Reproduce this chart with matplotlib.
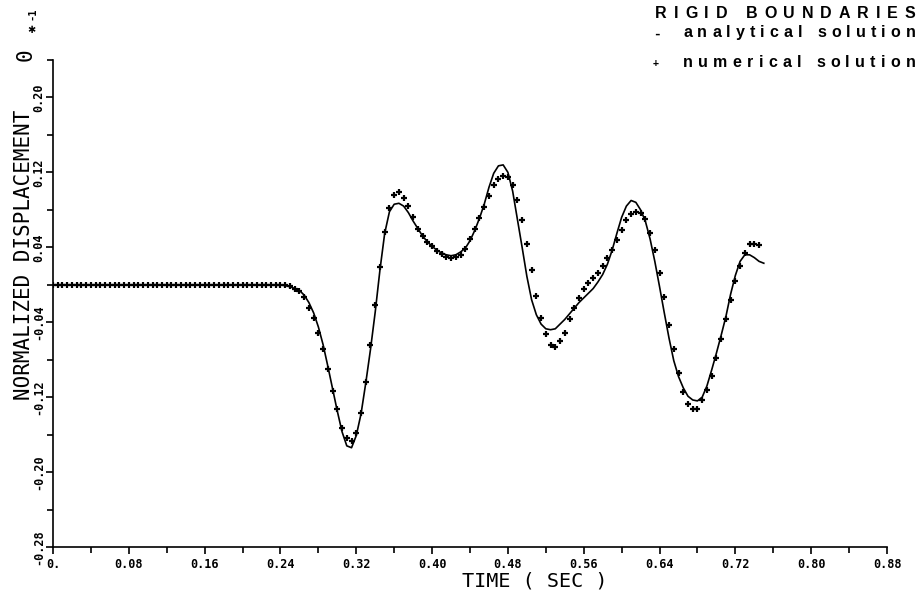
import numpy as np
import matplotlib
matplotlib.use("Agg")
import matplotlib.pyplot as plt
from matplotlib.font_manager import FontProperties

# sampling step of both solutions (s)
dt = 0.005

# analytical solution, t = 0, 0.005, ... 0.750
analytical = [
    0.0, 0.0, 0.0, 0.0, 0.0, 0.0, 0.0, 0.0, 0.0, 0.0,
    0.0, 0.0, 0.0, 0.0, 0.0, 0.0, 0.0, 0.0, 0.0, 0.0,
    0.0, 0.0, 0.0, 0.0, 0.0, 0.0, 0.0, 0.0, 0.0, 0.0,
    0.0, 0.0, 0.0, 0.0, 0.0, 0.0, 0.0, 0.0, 0.0, 0.0,
    0.0, 0.0, 0.0, 0.0, 0.0, 0.0, 0.0, 0.0, 0.0,
    -0.001, -0.002, -0.004, -0.006, -0.011, -0.019, -0.030, -0.045, -0.064, -0.087,
    -0.111, -0.135, -0.157, -0.172, -0.174, -0.161, -0.138, -0.105, -0.069, -0.029,
    0.016, 0.055, 0.078, 0.086, 0.087, 0.084, 0.077, 0.068, 0.060, 0.052,
    0.046, 0.041, 0.037, 0.034, 0.032, 0.031, 0.032, 0.035, 0.039, 0.047,
    0.058, 0.071, 0.086, 0.104, 0.119, 0.127, 0.128, 0.120, 0.100, 0.070,
    0.040, 0.009, -0.016, -0.032, -0.042, -0.047, -0.048, -0.047, -0.042, -0.037,
    -0.031, -0.025, -0.019, -0.014, -0.009, -0.004, 0.003, 0.011, 0.022, 0.037,
    0.055, 0.072, 0.084, 0.090, 0.088, 0.080, 0.068, 0.049, 0.025, -0.002,
    -0.030, -0.057, -0.081, -0.098, -0.110, -0.119, -0.123, -0.124, -0.120, -0.108,
    -0.091, -0.073, -0.054, -0.034, -0.010, 0.010, 0.025, 0.032, 0.032, 0.029,
    0.025, 0.023,
]

# numerical solution, t = 0, 0.005, ... 0.745
numerical = [
    0.0, 0.0, 0.0, 0.0, 0.0, 0.0, 0.0, 0.0, 0.0, 0.0,
    0.0, 0.0, 0.0, 0.0, 0.0, 0.0, 0.0, 0.0, 0.0, 0.0,
    0.0, 0.0, 0.0, 0.0, 0.0, 0.0, 0.0, 0.0, 0.0, 0.0,
    0.0, 0.0, 0.0, 0.0, 0.0, 0.0, 0.0, 0.0, 0.0, 0.0,
    0.0, 0.0, 0.0, 0.0, 0.0, 0.0, 0.0, 0.0, 0.0, 0.0,
    -0.001, -0.004, -0.007, -0.013, -0.025, -0.036, -0.052, -0.069, -0.090, -0.113,
    -0.133, -0.153, -0.164, -0.167, -0.158, -0.137, -0.104, -0.064, -0.022, 0.019,
    0.056, 0.082, 0.096, 0.099, 0.093, 0.084, 0.072, 0.060, 0.052, 0.046,
    0.041, 0.036, 0.033, 0.030, 0.029, 0.030, 0.032, 0.038, 0.049, 0.060,
    0.071, 0.083, 0.095, 0.106, 0.113, 0.116, 0.115, 0.107, 0.091, 0.069,
    0.044, 0.016, -0.012, -0.036, -0.053, -0.064, -0.066, -0.060, -0.051, -0.037,
    -0.025, -0.014, -0.005, 0.002, 0.007, 0.013, 0.020, 0.029, 0.037, 0.048,
    0.059, 0.069, 0.076, 0.078, 0.077, 0.070, 0.055, 0.037, 0.013, -0.013,
    -0.043, -0.069, -0.094, -0.114, -0.127, -0.133, -0.133, -0.123, -0.112, -0.097,
    -0.078, -0.058, -0.037, -0.016, 0.004, 0.020, 0.034, 0.043, 0.044, 0.042,
]

x_major = [0.0, 0.08, 0.16, 0.24, 0.32, 0.40, 0.48, 0.56, 0.64, 0.72, 0.80, 0.88]
x_labels = ["0.", "0.08", "0.16", "0.24", "0.32", "0.40", "0.48", "0.56", "0.64",
            "0.72", "0.80", "0.88"]
y_major = [-0.28, -0.20, -0.12, -0.04, 0.04, 0.12, 0.20]
y_labels = ["-0.28", "-0.20", "-0.12", "-0.04", "0.04", "0.12", "0.20"]

t_ana = np.arange(len(analytical)) * dt
t_num = np.arange(len(numerical)) * dt

W, H = 922, 595
mono = "DejaVu Sans Mono"

fig = plt.figure(figsize=(W / 100, H / 100), dpi=100)
ax = fig.add_axes([53 / W, 48 / H, 834 / W, 487 / H])

ax.plot(t_ana, analytical, color="black", lw=1.2)
ax.plot(t_num, numerical, "+", color="black", ms=5, mew=1.6)

ax.set_xlim(0, 0.88)
ax.set_ylim(-0.28, 0.24)
for s in ["top", "right"]:
    ax.spines[s].set_visible(False)
for s in ["left", "bottom"]:
    ax.spines[s].set_linewidth(1.2)

ax.set_xticks(x_major)
ax.set_xticklabels(x_labels, family=mono, weight="bold", fontsize=8.5)
ax.set_xticks(np.array(x_major[:-1]) + 0.04, minor=True)
ax.set_yticks(y_major)
ax.set_yticklabels(y_labels, family=mono, weight="bold", fontsize=8.5,
                   rotation=90, va="center")
ax.set_yticks(np.array(y_major) + 0.04, minor=True)
ax.tick_params(which="both", direction="out", width=1.2)
ax.tick_params(which="major", length=5)
ax.tick_params(which="minor", length=4)
ax.tick_params(axis="x", pad=3)
ax.tick_params(axis="y", pad=0.5)

# axis titles
fig.text(535 / W, 1 - 581 / H, "TIME ( SEC )", family=mono, fontsize=14.5,
         ha="center", va="center")
fig.text(24 / W, 1 - 255 / H, "NORMALIZED DISPLACEMENT", family=mono,
         fontsize=15, rotation=90, ha="center", va="center")
fig.text(26 / W, 1 - 55 / H, "0", family=mono, fontsize=15, rotation=90,
         ha="center", va="center")
fig.text(31 / W, 1 - 30 / H, "\u2731", fontsize=7, ha="center", va="center")
fig.text(32 / W, 1 - 14 / H, "-1", family=mono, weight="bold", fontsize=7.5,
         rotation=90, ha="center", va="center")

renderer = fig.canvas.get_renderer()


def tracked(x0, y, s, track, size):
    # bold text with extra letter spacing, one character at a time
    prop = FontProperties(family="Liberation Sans", weight="bold", size=size)
    x = x0
    for ch in s:
        w = renderer.get_text_width_height_descent(ch, prop, ismath=False)[0]
        if ch != " ":
            fig.text(x / W, 1 - y / H, ch, ha="left", va="baseline",
                     fontproperties=prop)
        x += w + track


tracked(655, 18, "RIGID BOUNDARIES", 6.9, 11.5)
tracked(683, 37, "analytical solution", 5.1, 11.5)
tracked(683, 67, "numerical solution", 5.25, 11.5)
fig.text(657 / W, 1 - 34 / H, "-", family=mono, weight="bold", fontsize=9,
         ha="center", va="center")
fig.text(656 / W, 1 - 63 / H, "+", family=mono, weight="bold", fontsize=7,
         ha="center", va="center")

fig.savefig("out.png", dpi=100)
